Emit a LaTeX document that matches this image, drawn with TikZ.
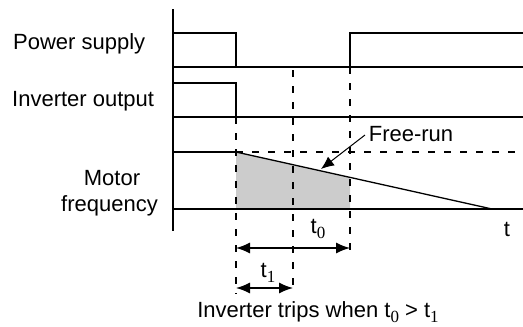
\documentclass[tikz,border=0pt]{standalone}
\usepackage{fontspec}
\setmainfont{Liberation Sans}
\newfontfamily\subf{Liberation Serif}
\newcommand{\sbs}[1]{\raisebox{-5pt}{\subf\fontsize{17}{17}\selectfont #1}}
\usetikzlibrary{arrows.meta}
\begin{document}
\begin{tikzpicture}[x=1pt,y=-1pt,
  sig/.style={line width=1.3pt},
  axis/.style={line width=2.2pt},
  dsh/.style={line width=1.3pt,dash pattern=on 7pt off 9pt},
  dim/.style={line width=1.3pt,{Latex[length=14pt,width=11pt]}-{Latex[length=14pt,width=11pt]}},
  lbl/.style={inner sep=0pt,font=\fontsize{22}{25}\selectfont},
  sub/.style={inner sep=0pt,font=\fontsize{22}{25}\selectfont}]
\useasboundingbox (0,0) rectangle (523,327);
% coordinates
\coordinate (axT) at (173,9);
\coordinate (axB) at (173,231);
% gray fill
\fill[gray!40] (236,152) -- (350,177.4) -- (350,209) -- (236,209) -- cycle;
% axis
\draw[axis] (axT) -- (axB);
% power supply
\draw[sig] (173,33) -- (236,33) -- (236,67) -- (350,67) -- (350,33) -- (523,33);
\draw[sig] (173,67) -- (236,67);
\draw[sig] (350,67) -- (523,67);
% inverter output
\draw[sig] (173,83) -- (236,83) -- (236,117) -- (523,117);
\draw[sig] (173,117) -- (236,117);
% motor frequency
\draw[sig] (173,152) -- (236,152);
\draw[dsh] (236,152) -- (523,152);
\draw[sig] (236,152) -- (492,209);
\draw[sig] (173,209) -- (523,209);
% dashed verticals
\draw[dsh] (236,117) -- (236,294);
\draw[dsh] (293,70) -- (293,294);
\draw[dsh] (350,67) -- (350,256);
% dimension arrows
\coordinate (a0l) at (236,248);
\coordinate (a0r) at (350,248);
\coordinate (a1l) at (236,288);
\coordinate (a1r) at (293,288);
\draw[dim] (a0l) -- (a0r);
\draw[dim] (a1l) -- (a1r);
% labels
\node[lbl,anchor=west] (ps) at (13,44) {Power supply};
\node[lbl,anchor=west] (io) at (12,101) {Inverter output};
\node[lbl] (mo) at (112,178) {Motor};
\node[lbl,anchor=east] (mf) at (158,206) {frequency};
\node[sub,anchor=base] (t0) at (318,233) {t\sbs{0}};
\node[sub] (t) at (507,229) {t};
\node[sub,anchor=base] (t1) at (268,277) {t\sbs{1}};
\node[lbl,anchor=base] (trip) at (318,317) {Inverter trips when t\sbs{0} > t\sbs{1}};
\node[lbl] (fr) at (411,134) {Free-run};
\coordinate (frs) at (365,135);
\coordinate (frtip) at (321,169);
\draw[line width=1pt,-{Latex[length=13pt,width=11pt]}] (frs) -- (frtip);
\end{tikzpicture}
\end{document}
